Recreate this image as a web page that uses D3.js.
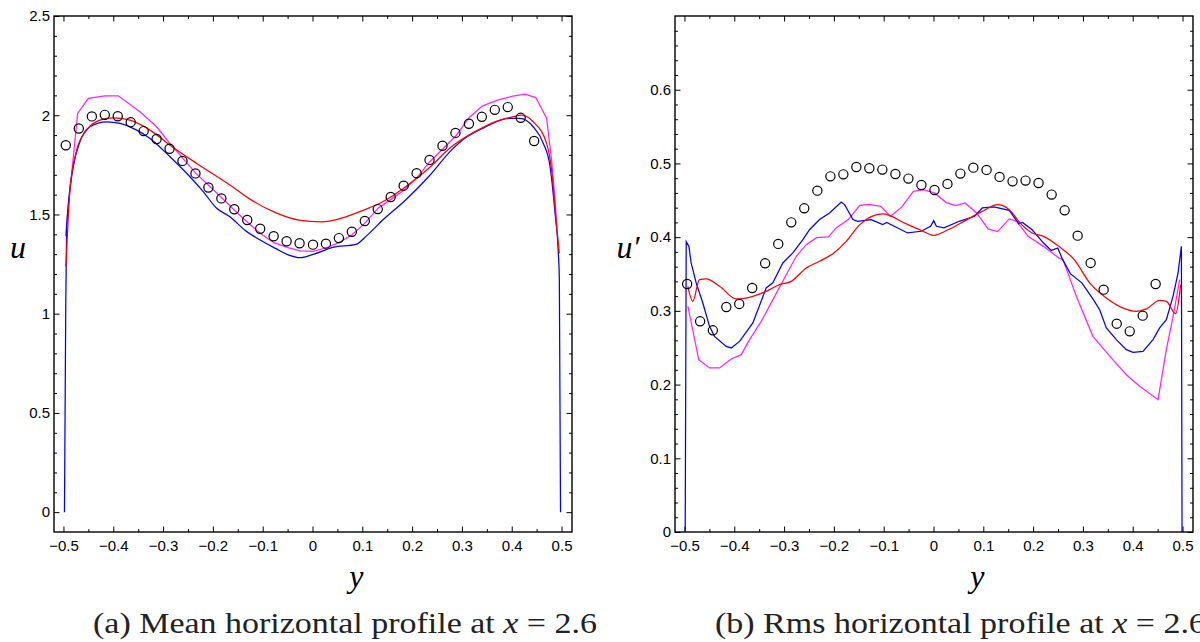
<!DOCTYPE html>
<meta charset="utf-8">
<script src="https://d3js.org/d3.v7.min.js"></script>
<style>
    body { margin: 0; background: #fff; }
    .alabel { font-family: 'Liberation Serif', serif; font-style: italic; font-size: 32px; }
    .caption { font-family: 'Liberation Serif', serif; font-size: 30px; fill: #222; }
</style>
<div id="chart"></div>
<script>
    // mean profile (a): experiment circles and three simulations
    const meanExp = [[-0.4953,1.849],[-0.4692,1.933],[-0.443,1.994],[-0.417,2.002],[-0.391,1.995],[-0.365,1.965],
        [-0.339,1.920],[-0.313,1.880],[-0.287,1.831],[-0.261,1.770],[-0.235,1.707],[-0.209,1.636],[-0.183,1.581],
        [-0.157,1.526],[-0.131,1.472],[-0.105,1.428],[-0.078,1.390],[-0.052,1.365],[-0.026,1.355],[0.001,1.348],
        [0.027,1.353],[0.053,1.381],[0.079,1.413],[0.105,1.467],[0.131,1.527],[0.157,1.588],[0.183,1.645],
        [0.209,1.708],[0.235,1.775],[0.261,1.846],[0.287,1.911],[0.314,1.957],[0.340,1.992],[0.366,2.027],
        [0.392,2.041],[0.418,1.987],[0.445,1.870]];
    const meanBlue = [[-0.498,0],[-0.4955,1.0],[-0.4936,1.438],[-0.4803,1.740],[-0.4669,1.866],[-0.4468,1.942],
        [-0.4133,1.967],[-0.3865,1.959],[-0.353,1.925],[-0.3263,1.883],[-0.2861,1.791],[-0.246,1.690],[-0.219,1.614],
        [-0.1924,1.531],[-0.1657,1.488],[-0.1356,1.421],[-0.105,1.371],[-0.0743,1.329],[-0.0512,1.299],[-0.0243,1.282],
        [0.0026,1.300],[0.041,1.334],[0.087,1.349],[0.110,1.396],[0.141,1.472],[0.187,1.573],[0.233,1.690],
        [0.279,1.824],[0.310,1.891],[0.348,1.942],[0.395,1.984],[0.4167,1.984],[0.443,1.942],[0.4635,1.858],
        [0.477,1.740],[0.487,1.506],[0.4936,1.304],[0.4956,1.170],[0.498,0]];
    const meanRed = [[-0.495,1.237],[-0.487,1.623],[-0.4735,1.824],[-0.4535,1.925],[-0.4267,1.975],[-0.400,1.987],
        [-0.3665,1.975],[-0.3263,1.925],[-0.2861,1.849],[-0.2325,1.757],[-0.1657,1.648],[-0.128,1.581],[-0.0743,1.509],
        [-0.028,1.472],[0.018,1.463],[0.0564,1.480],[0.1026,1.522],[0.141,1.564],[0.187,1.640],[0.233,1.732],
        [0.279,1.841],[0.3255,1.916],[0.3715,1.972],[0.402,1.992],[0.420,2.0],[0.443,1.967],[0.470,1.858],
        [0.480,1.724],[0.489,1.472],[0.4955,1.304]];
    const meanMagenta = [[-0.496,1.39],[-0.4715,2.009],[-0.450,2.085],[-0.4167,2.098],[-0.390,2.098],[-0.3464,2.017],
        [-0.313,1.942],[-0.2863,1.858],[-0.234,1.707],[-0.1817,1.583],[-0.1556,1.519],[-0.1295,1.458],[-0.105,1.405],
        [-0.0773,1.358],[-0.0512,1.334],[-0.025,1.317],[0.001,1.314],[0.027,1.331],[0.053,1.358],[0.0794,1.398],
        [0.105,1.455],[0.1316,1.532],[0.1577,1.576],[0.1838,1.623],[0.21,1.687],[0.236,1.767],[0.262,1.831],
        [0.2886,1.898],[0.3147,1.989],[0.3407,2.046],[0.3715,2.076],[0.402,2.096],[0.4267,2.106],[0.4483,2.089],
        [0.470,1.985],[0.48,1.774],[0.487,1.573],[0.4906,1.438]];

    // rms profile (b)
    const rmsExp = [[-0.4946,0.3365],[-0.4686,0.2858],[-0.443,0.2736],[-0.416,0.3053],[-0.390,0.3094],[-0.364,0.331],
        [-0.338,0.3645],[-0.3117,0.3908],[-0.2856,0.4201],[-0.2595,0.4391],[-0.2332,0.4631],[-0.207,0.4825],
        [-0.181,0.4852],[-0.1549,0.4952],[-0.1288,0.4934],[-0.1027,0.4916],[-0.0765,0.4857],[-0.0504,0.4794],
        [-0.0243,0.4708],[0.002,0.464],[0.028,0.4722],[0.054,0.4862],[0.080,0.4943],[0.1065,0.4912],[0.1326,0.4817],
        [0.1587,0.4757],[0.1848,0.4767],[0.2109,0.4735],[0.2372,0.4577],[0.2633,0.4364],[0.2894,0.402],
        [0.3155,0.365],[0.3416,0.3288],[0.3678,0.2826],[0.394,0.2722],[0.420,0.2935],[0.446,0.3365]];
    const rmsBlue = [[-0.4985,0],[-0.4965,0.394],[-0.491,0.3875],[-0.4866,0.365],[-0.4765,0.338],[-0.4631,0.3107],
        [-0.4497,0.279],[-0.4397,0.2654],[-0.4162,0.2518],[-0.4061,0.2497],[-0.3894,0.2586],[-0.3627,0.2836],
        [-0.336,0.331],[-0.3226,0.338],[-0.3025,0.365],[-0.2824,0.3786],[-0.2623,0.3966],[-0.2489,0.410],
        [-0.2288,0.4238],[-0.2087,0.4328],[-0.1852,0.4477],[-0.1785,0.4441],[-0.1618,0.4238],[-0.152,0.4215],
        [-0.125,0.4238],[-0.102,0.417],[-0.094,0.420],[-0.0788,0.4147],[-0.052,0.4057],[-0.025,0.408],
        [-0.0058,0.4147],[0.0004,0.4224],[0.0058,0.4147],[0.021,0.4125],[0.0518,0.4215],[0.0826,0.4283],
        [0.098,0.4396],[0.121,0.441],[0.152,0.4364],[0.171,0.4183],[0.1787,0.420],[0.198,0.410],[0.221,0.392],
        [0.2363,0.382],[0.2495,0.3853],[0.2593,0.3695],[0.2747,0.3505],[0.2978,0.338],[0.321,0.3152],
        [0.3336,0.3016],[0.347,0.2768],[0.367,0.261],[0.3872,0.2474],[0.4005,0.2437],[0.4206,0.245],
        [0.4407,0.261],[0.454,0.2768],[0.4675,0.288],[0.4809,0.3197],[0.491,0.3514],[0.4977,0.3875],[0.499,0]];
    const rmsRed = [[-0.4933,0.3333],[-0.4832,0.3129],[-0.4698,0.3424],[-0.4564,0.3433],[-0.4296,0.3333],
        [-0.396,0.3161],[-0.3627,0.3197],[-0.336,0.3265],[-0.3092,0.3356],[-0.2856,0.34],[-0.2555,0.3582],
        [-0.2288,0.3672],[-0.202,0.3776],[-0.1751,0.3943],[-0.148,0.4170],[-0.102,0.4315],[-0.0556,0.4183],
        [-0.025,0.4092],[0.0004,0.4025],[0.029,0.410],[0.0673,0.4238],[0.098,0.435],[0.129,0.444],[0.152,0.4373],
        [0.175,0.4183],[0.198,0.4057],[0.221,0.401],[0.2516,0.3875],[0.2826,0.3695],[0.3135,0.338],[0.347,0.3175],
        [0.380,0.304],[0.4073,0.2993],[0.4274,0.3026],[0.454,0.3143],[0.4675,0.3129],[0.4862,0.2962],[0.4963,0.3356]];
    const rmsMagenta = [[-0.493,0.306],[-0.4713,0.2338],[-0.4497,0.2225],[-0.4296,0.2225],[-0.4061,0.2347],
        [-0.386,0.2406],[-0.3693,0.261],[-0.3458,0.2858],[-0.3224,0.3152],[-0.2956,0.349],[-0.2755,0.374],
        [-0.2555,0.3898],[-0.2348,0.3993],[-0.2109,0.4002],[-0.1953,0.4125],[-0.171,0.4238],[-0.148,0.4432],
        [-0.1288,0.4445],[-0.1057,0.4418],[-0.0864,0.4282],[-0.0635,0.441],[-0.0404,0.4622],[-0.0211,0.4645],
        [0.002,0.46],[0.025,0.4472],[0.0442,0.4427],[0.0635,0.4464],[0.0866,0.4328],[0.1095,0.4111],
        [0.1287,0.4075],[0.152,0.4247],[0.167,0.4214],[0.190,0.4011],[0.2208,0.3875],[0.2516,0.3718],
        [0.26,0.3695],[0.2868,0.3197],[0.320,0.2654],[0.360,0.2338],[0.3872,0.2134],[0.414,0.1976],
        [0.4508,0.1795],[0.4675,0.2474],[0.481,0.2925],[0.4943,0.3423]];

    const xMajor = d3.range(-5, 6).map(k => k / 10);
    const xMinor = d3.range(-9, 10, 2).map(k => k / 20);
    const meanMajor = [0, 0.5, 1, 1.5, 2, 2.5];
    const meanMinor = d3.range(1, 25).map(k => k / 10).filter(v => Math.abs(v * 2 - Math.round(v * 2)) > 1e-6);
    const rmsMajor = [0, 0.1, 0.2, 0.3, 0.4, 0.5, 0.6];
    const rmsMinor = d3.range(1, 35).map(k => k / 50).filter(v => Math.abs(v * 10 - Math.round(v * 10)) > 1e-6);

    const width = 1200, height = 642;
    const svg = d3.select("#chart").append("svg")
        .attr("width", width)
        .attr("height", height);

    const fmt = d => d < 0 ? "\u2212" + Math.abs(d) : String(d);

    function drawPanel(p) {
        let x = d3.scaleLinear().domain([-0.519, 0.521]).range([p.left, p.right]);
        let y = d3.scaleLinear().domain(p.ydom).range([532, 16]);
        let g = svg.append("g");
        let clipId = "clip" + p.id;

        g.append("clipPath").attr("id", clipId)
            .append("rect")
            .attr("x", p.left).attr("y", 16)
            .attr("width", p.right - p.left).attr("height", 516);

        // ticks on all four sides, pointing in
        function ax(axis, tx, ty, vals, size, labels, pad) {
            let a = axis.tickValues(vals).tickSize(-size).tickPadding(pad || 3)
                .tickFormat(labels ? labels : "");
            g.append("g")
                .attr("transform", "translate(" + tx + "," + ty + ")")
                .call(a)
                .call(s => s.select(".domain").remove())
                .call(s => s.selectAll(".tick line").attr("stroke", "#000").attr("stroke-width", 1))
                .call(s => s.selectAll(".tick text")
                    .style("font-family", "'Liberation Sans', Arial, sans-serif")
                    .style("font-size", "15px")
                    .attr("fill", "#000"));
        }
        ax(d3.axisBottom(x), 0, 532, xMajor, 5.5, fmt, 8);
        ax(d3.axisBottom(x), 0, 532, xMinor, 3);
        ax(d3.axisTop(x), 0, 16, xMajor, 5.5);
        ax(d3.axisTop(x), 0, 16, xMinor, 3);
        ax(d3.axisLeft(y), p.left, 0, p.yMajor, 5.5, p.yLabel, 4);
        ax(d3.axisLeft(y), p.left, 0, p.yMinor, 3);
        ax(d3.axisRight(y), p.right, 0, p.yMajor, 5.5);
        ax(d3.axisRight(y), p.right, 0, p.yMinor, 3);

        let plot = g.append("g").attr("clip-path", "url(#" + clipId + ")");
        p.lines.forEach(function (l) {
            let line = d3.line()
                .x(d => x(d[0]))
                .y(d => y(d[1]))
                .curve(l.smooth ? d3.curveMonotoneX : d3.curveLinear);
            plot.append("path")
                .datum(l.data)
                .attr("d", line)
                .attr("fill", "none")
                .attr("stroke", l.color)
                .attr("stroke-width", 1.25);
        });

        plot.selectAll("circle.exp")
            .data(p.exp)
            .enter()
            .append("circle")
            .attr("class", "exp")
            .attr("cx", d => x(d[0]))
            .attr("cy", d => y(d[1]))
            .attr("r", 4.6)
            .attr("fill", "none")
            .attr("stroke", "#000")
            .attr("stroke-width", 1.2);

        g.append("rect")
            .attr("x", p.left).attr("y", 16)
            .attr("width", p.right - p.left).attr("height", 516)
            .attr("fill", "none")
            .attr("stroke", "#000")
            .attr("stroke-width", 1.4);

        g.append("text")
            .attr("class", "alabel")
            .attr("x", p.ylabX).attr("y", 258)
            .attr("text-anchor", "middle")
            .text(p.ytitle);

        g.append("text")
            .attr("class", "alabel")
            .attr("x", (x(0) + x(0.1)) / 2 + 19).attr("y", 587)
            .attr("text-anchor", "middle")
            .text("y");

        let cap = g.append("text")
            .attr("class", "caption")
            .attr("x", p.capX).attr("y", 633);
        cap.append("tspan").text(p.capText + " ");
        cap.append("tspan").attr("font-style", "italic").text("x");
        cap.append("tspan").text(" = 2.6");
        return cap;
    }

    let capA = drawPanel({
        id: "a", left: 54, right: 572, ydom: [-0.1, 2.5],
        yMajor: meanMajor, yMinor: meanMinor, yLabel: d => String(d),
        ylabX: 18, ytitle: "u", capX: 93, capText: "(a) Mean horizontal profile at",
        exp: meanExp,
        lines: [
            {data: meanMagenta, color: "#ff22ff", smooth: false},
            {data: meanBlue, color: "#0000ff", smooth: true},
            {data: meanRed, color: "#ff0000", smooth: true}
        ]
    });

    let capB = drawPanel({
        id: "b", left: 675, right: 1193, ydom: [0, 0.7],
        yMajor: rmsMajor, yMinor: rmsMinor, yLabel: d => String(d),
        ylabX: 628, ytitle: "u\u2032", capX: 715, capText: "(b) Rms horizontal profile at",
        exp: rmsExp,
        lines: [
            {data: rmsMagenta, color: "#ff22ff", smooth: false},
            {data: rmsBlue, color: "#0000ff", smooth: false},
            {data: rmsRed, color: "#ff0000", smooth: true}
        ]
    });

    // captions are set in a wider face in the original; stretch to the same width
    let k = 504 / capA.node().getComputedTextLength();
    capA.attr("textLength", 504).attr("lengthAdjust", "spacingAndGlyphs");
    capB.attr("textLength", capB.node().getComputedTextLength() * k).attr("lengthAdjust", "spacingAndGlyphs");
</script>
